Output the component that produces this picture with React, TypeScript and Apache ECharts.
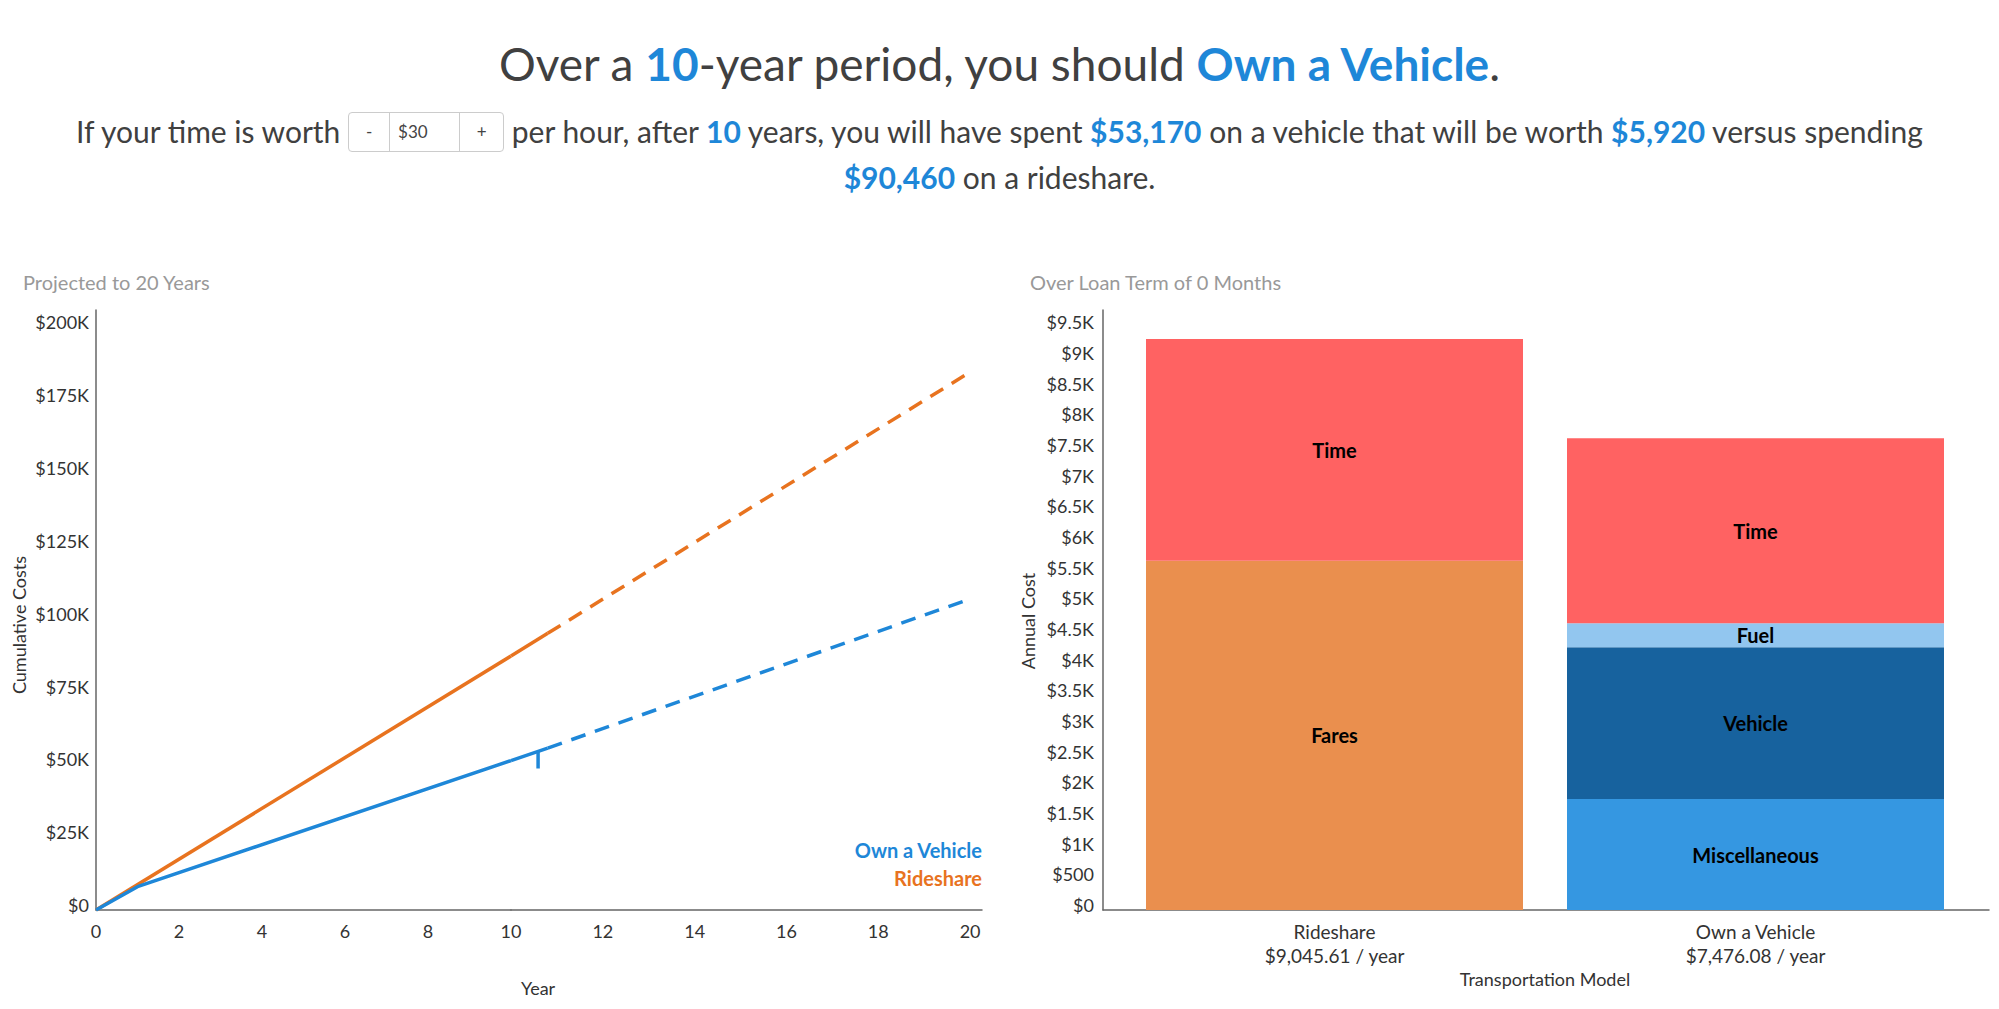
import React, { useEffect, useRef } from "react";
import * as echarts from "echarts";

// ---------- data ----------
// Left chart: cumulative costs (USD) by year
const rideshareSolidA: [number, number][] = [[0, 0], [10, 87200]];
const rideshareSolidB: [number, number][] = [[10, 87200], [10.8, 95000]];
const rideshareProjected: [number, number][] = [[10.8, 95000], [20, 184700]];
const vehicleSolidA: [number, number][] = [[0, 0], [1, 8000], [10, 51300]];
const vehicleSolidB: [number, number][] = [[10, 51300], [10.8, 55600]];
const vehicleProjected: [number, number][] = [[10.8, 55600], [20, 106800]];
const vehicleResaleMark: [number, number][] = [[10.59, 54500], [10.59, 48600]];

// Right chart: annual cost breakdown (USD)
const models = ["Rideshare", "Own a Vehicle"];
const modelAnnual = ["$9,045.61 / year", "$7,476.08 / year"];
const fares = [5696, null];
const misc = [null, 1809];
const vehicle = [null, 2474];
const fuel = [null, 395];
const time = [3618, 3015];

const BLUE = "#1E87D8";
const ORANGE = "#E8731F";
const FONT = "Lato";
const AXIS_COLOR = "#666";
const LABEL_COLOR = "#333";

function kFmt(v: number) {
  if (v === 0) return "$0";
  return "$" + v / 1000 + "K";
}
function kFmt2(v: number) {
  if (v === 0) return "$0";
  if (v < 1000) return "$" + v;
  return "$" + v / 1000 + "K";
}

export default function App() {
  const ref = useRef<HTMLDivElement>(null);

  useEffect(() => {
    if (!ref.current) return;
    const chart = echarts.init(ref.current, undefined, { renderer: "svg" });

    const axLabel = { color: LABEL_COLOR, fontFamily: FONT, fontSize: 18 };
    const hiddenAxisBits = {
      axisTick: { show: false },
      splitLine: { show: false },
    };

    const lineSeries = (
      name: string,
      data: [number, number][],
      color: string,
      idx: number,
      dashed: boolean
    ) => ({
      type: "line",
      name,
      data,
      xAxisIndex: idx,
      yAxisIndex: idx,
      symbol: "none",
      silent: true,
      lineStyle: { color, width: 3.5, type: dashed ? [15, 10] : "solid", cap: "butt" },
      itemStyle: { color },
      z: 3,
    });

    const barSeries = (name: string, data: (number | null)[], color: string) => ({
      type: "bar",
      name,
      data,
      stack: "total",
      xAxisIndex: 3,
      yAxisIndex: 3,
      barWidth: 377,
      itemStyle: { color },
      label: {
        show: true,
        position: "inside",
        formatter: "{a}",
        color: "#000",
        fontWeight: "bold",
        fontFamily: FONT,
        fontSize: 20,
      },
    });

    const yLabelLift = { verticalAlign: "bottom", lineHeight: 10 };

    const option: any = {
      animation: false,
      textStyle: { fontFamily: FONT },
      grid: [
        { left: 96, top: 310, width: 415, height: 600 },
        { left: 511, top: 310, width: 471, height: 600 },
        { left: 1103, top: 310, width: 886, height: 600 },
        { left: 1124, top: 310, width: 842, height: 600 },
      ],
      xAxis: [
        {
          type: "value",
          gridIndex: 0,
          min: 0,
          max: 10,
          interval: 2,
          axisLine: { show: true, lineStyle: { color: AXIS_COLOR, width: 1.5 } },
          axisLabel: { ...axLabel, margin: 12, showMaxLabel: false },
          ...hiddenAxisBits,
        },
        {
          type: "value",
          gridIndex: 1,
          min: 10,
          max: 20.26,
          interval: 2,
          axisLine: { show: true, lineStyle: { color: AXIS_COLOR, width: 1.5 } },
          axisLabel: { ...axLabel, margin: 12, showMaxLabel: false },
          ...hiddenAxisBits,
        },
        {
          type: "value",
          gridIndex: 2,
          min: 0,
          max: 1,
          axisLine: { show: true, lineStyle: { color: AXIS_COLOR, width: 1.5 } },
          axisLabel: { show: false },
          ...hiddenAxisBits,
        },
        {
          type: "category",
          gridIndex: 3,
          data: models,
          axisLine: { show: false },
          axisTick: { show: false },
          axisLabel: {
            ...axLabel,
            fontSize: 19,
            margin: 9,
            lineHeight: 24,
            formatter: (v: string, i: number) => v + "\n" + modelAnnual[i],
          },
        },
      ],
      yAxis: [
        {
          type: "value",
          gridIndex: 0,
          min: 0,
          max: 206000,
          interval: 25000,
          axisLine: { show: true, lineStyle: { color: AXIS_COLOR, width: 1.5 } },
          axisLabel: {
            ...axLabel,
            ...yLabelLift,
            margin: 7,
            showMaxLabel: false,
            formatter: kFmt,
          },
          ...hiddenAxisBits,
        },
        { type: "value", gridIndex: 1, min: 0, max: 206000, show: false },
        {
          type: "value",
          gridIndex: 2,
          min: 0,
          max: 9785,
          interval: 500,
          axisLine: { show: true, lineStyle: { color: AXIS_COLOR, width: 1.5 } },
          axisLabel: {
            ...axLabel,
            ...yLabelLift,
            margin: 9,
            showMaxLabel: false,
            formatter: kFmt2,
          },
          ...hiddenAxisBits,
        },
        { type: "value", gridIndex: 3, min: 0, max: 9785, show: false },
      ],
      series: [
        lineSeries("Rideshare", rideshareSolidA, ORANGE, 0, false),
        lineSeries("Own a Vehicle", vehicleSolidA, BLUE, 0, false),
        lineSeries("Rideshare", rideshareSolidB, ORANGE, 1, false),
        lineSeries("Rideshare", rideshareProjected, ORANGE, 1, true),
        lineSeries("Own a Vehicle", vehicleSolidB, BLUE, 1, false),
        lineSeries("Own a Vehicle", vehicleProjected, BLUE, 1, true),
        lineSeries("Vehicle value", vehicleResaleMark, BLUE, 1, false),
        barSeries("Fares", fares, "#EA8F4E"),
        barSeries("Miscellaneous", misc, "#3597E1"),
        barSeries("Vehicle", vehicle, "#17629E"),
        barSeries("Fuel", fuel, "#92C6EF"),
        barSeries("Time", time, "#FF6262"),
      ],
      graphic: [
        {
          type: "text",
          x: 23,
          y: 282,
          style: { text: "Projected to 20 Years", fill: "#999", fontSize: 20, fontFamily: FONT, verticalAlign: "middle" },
        },
        {
          type: "text",
          x: 1030,
          y: 282,
          style: { text: "Over Loan Term of 0 Months", fill: "#999", fontSize: 20, fontFamily: FONT, verticalAlign: "middle" },
        },
        {
          type: "text",
          x: 19,
          y: 625,
          rotation: Math.PI / 2,
          style: { text: "Cumulative Costs", fill: LABEL_COLOR, fontSize: 18, fontFamily: FONT, align: "center", verticalAlign: "middle" },
        },
        {
          type: "text",
          x: 538,
          y: 988,
          style: { text: "Year", fill: LABEL_COLOR, fontSize: 18, fontFamily: FONT, align: "center", verticalAlign: "middle" },
        },
        {
          type: "text",
          x: 1028,
          y: 621,
          rotation: Math.PI / 2,
          style: { text: "Annual Cost", fill: LABEL_COLOR, fontSize: 18, fontFamily: FONT, align: "center", verticalAlign: "middle" },
        },
        {
          type: "text",
          x: 1545,
          y: 979,
          style: { text: "Transportation Model", fill: LABEL_COLOR, fontSize: 18, fontFamily: FONT, align: "center", verticalAlign: "middle" },
        },
        {
          type: "text",
          x: 982,
          y: 850,
          style: { text: "Own a Vehicle", fill: BLUE, fontSize: 20, fontWeight: "bold", fontFamily: FONT, align: "right", verticalAlign: "middle" },
        },
        {
          type: "text",
          x: 982,
          y: 878,
          style: { text: "Rideshare", fill: ORANGE, fontSize: 20, fontWeight: "bold", fontFamily: FONT, align: "right", verticalAlign: "middle" },
        },
      ],
    };

    chart.setOption(option);
    return () => chart.dispose();
  }, []);

  const hl: React.CSSProperties = { color: BLUE, fontWeight: "bold" };
  const cell: React.CSSProperties = {
    display: "inline-flex",
    alignItems: "center",
    justifyContent: "center",
    height: "100%",
    fontSize: 17,
    color: "#444",
    boxSizing: "border-box",
  };

  return (
    <div style={{ position: "fixed", left: 0, top: 0, width: 1999, height: 1009, background: "#fff" }}>
      <div ref={ref} style={{ position: "absolute", left: 0, top: 0, width: 1999, height: 1009 }} />
      <div
        style={{
          position: "absolute",
          left: 0,
          top: 34,
          width: 1999,
          height: 60,
          lineHeight: "60px",
          textAlign: "center",
          fontFamily: FONT,
          fontSize: 46,
          color: "#404040",
          whiteSpace: "nowrap",
        }}
      >
        Over a <span style={hl}>10</span>-year period, you should <span style={hl}>Own a Vehicle</span>.
      </div>
      <div
        style={{
          position: "absolute",
          left: 0,
          top: 109,
          width: 1999,
          lineHeight: "44px",
          textAlign: "center",
          fontFamily: FONT,
          fontSize: 30,
          color: "#404040",
          whiteSpace: "nowrap",
        }}
      >
        If your time is worth{" "}
        <span
          style={{
            display: "inline-flex",
            verticalAlign: "middle",
            height: 40,
            border: "1px solid #ccc",
            borderRadius: 4,
            boxSizing: "border-box",
            position: "relative",
            top: -3,
          }}
        >
          <span style={{ ...cell, width: 41, borderRight: "1px solid #ccc" }}>-</span>
          <span style={{ ...cell, width: 70, justifyContent: "flex-start", paddingLeft: 8, borderRight: "1px solid #ccc" }}>$30</span>
          <span style={{ ...cell, width: 43 }}>+</span>
        </span>{" "}
        per hour, after <span style={hl}>10</span> years, you will have spent <span style={hl}>$53,170</span> on a
        vehicle that will be worth <span style={hl}>$5,920</span> versus spending
        <br />
        <span style={hl}>$90,460</span> on a rideshare.
      </div>
    </div>
  );
}
